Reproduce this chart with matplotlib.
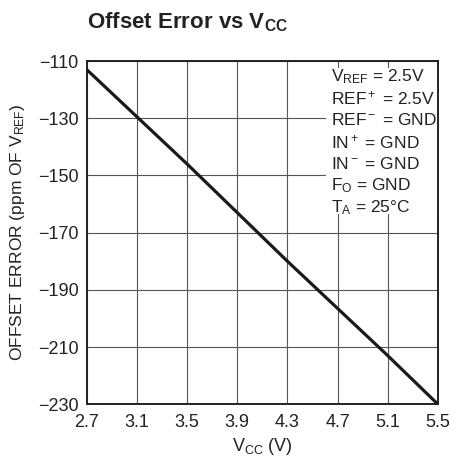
import matplotlib
matplotlib.use('agg')
import matplotlib.pyplot as plt
from matplotlib.patches import Rectangle

# data
vcc = [2.7, 3.1, 3.5, 3.9, 4.3, 4.7, 5.1, 5.5]
offset_err = [-113, -129.5, -146, -163, -180, -196.5, -213, -230]

xticks = [2.7, 3.1, 3.5, 3.9, 4.3, 4.7, 5.1, 5.5]
yticks = [-230, -210, -190, -170, -150, -130, -110]

notes = [r'V$_{\rm REF}$ = 2.5V',
         r'REF$^+$ = 2.5V',
         r'REF$^-$ = GND',
         r'IN$^+$ = GND',
         r'IN$^-$ = GND',
         r'F$_{\rm O}$ = GND',
         r'T$_{\rm A}$ = 25°C']

fam = ['Liberation Sans', 'DejaVu Sans']
plt.rcParams['font.family'] = fam
plt.rcParams['mathtext.fontset'] = 'custom'
plt.rcParams['mathtext.rm'] = 'Liberation Sans'
plt.rcParams['mathtext.it'] = 'Liberation Sans'
plt.rcParams['mathtext.bf'] = 'Liberation Sans:bold'

fig = plt.figure(figsize=(4.5, 4.63), dpi=100)
ax = fig.add_axes([0.193, 0.127, 0.78, 0.741])

ax.plot(vcc, offset_err, color='#1a1a1a', lw=2.3, zorder=3)

ax.set_xlim(2.7, 5.5)
ax.set_ylim(-230, -110)
ax.set_xticks(xticks)
ax.set_yticks(yticks)
ax.set_xticklabels([str(t) for t in xticks])
ax.set_yticklabels(['\u2212%d' % abs(t) for t in yticks])
ax.tick_params(length=0, labelsize=13, colors='#222222')
ax.tick_params(axis='x', pad=7)
ax.tick_params(axis='y', pad=6)
ax.grid(True, color='#555555', lw=0.8)
for s in ax.spines.values():
    s.set_linewidth(1.4)
    s.set_color('#222222')

ax.set_xlabel(r'V$_{\rm CC}$ (V)', fontsize=13, labelpad=4, color='#222222')
ax.set_ylabel(r'OFFSET ERROR (ppm OF V$_{\rm REF}$)', fontsize=12.5, labelpad=8, color='#222222')

fig.text(0.193, 0.952, r'Offset Error vs V$_{\bf CC}$', fontsize=16, fontweight='bold',
         ha='left', va='center', color='#222222')

# white box behind the notes (grid stubs stay visible at the top)
ax.add_patch(Rectangle((0.68, 0.555), 0.32, 0.425, transform=ax.transAxes,
                       facecolor='white', edgecolor='none', zorder=2))
y0 = 0.955
for i, t in enumerate(notes):
    ax.text(0.697, y0 - i * 0.0635, t, transform=ax.transAxes, fontsize=12.5,
            ha='left', va='center', color='#222222', zorder=4)

fig.savefig('out.png', dpi=100)
